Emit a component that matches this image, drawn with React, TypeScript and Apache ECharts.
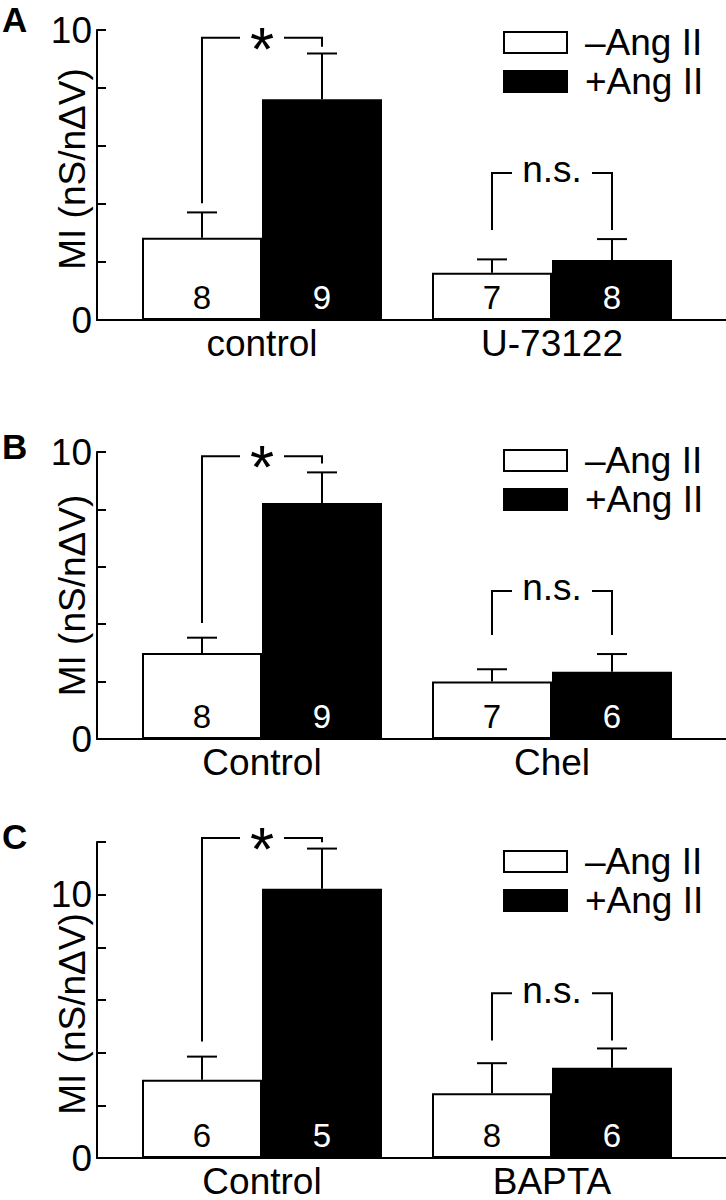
import React, { useEffect, useRef } from 'react';
import * as echarts from 'echarts';

// ---------- data ----------
const SERIES_NAMES = ['\u2013Ang II', '+Ang II'];
const PANEL_LETTERS = ['A', 'B', 'C'];
const Y_NAME = 'MI (nS/n\u0394V)';

const categoriesA = ['control', 'U-73122'];
const minusA = [2.84, 1.63];
const minusErrA = [0.87, 0.46];
const plusA = [7.61, 2.07];
const plusErrA = [1.58, 0.72];
const nMinusA = [8, 7];
const nPlusA = [9, 8];
const bracketsA = [
  { cat: 0, leftBottom: 4.03, rightBottom: 9.42, top: 9.73, label: '*' },
  { cat: 1, leftBottom: 3.1, rightBottom: 3.1, top: 5.07, label: 'n.s.' },
];

const categoriesB = ['Control', 'Chel'];
const minusB = [3.0, 2.0];
const minusErrB = [0.53, 0.43];
const plusB = [8.22, 2.34];
const plusErrB = [1.07, 0.62];
const nMinusB = [8, 7];
const nPlusB = [9, 6];
const bracketsB = [
  { cat: 0, leftBottom: 4.04, rightBottom: 9.6, top: 9.85, label: '*' },
  { cat: 1, leftBottom: 3.62, rightBottom: 3.62, top: 5.16, label: 'n.s.' },
];

const categoriesC = ['Control', 'BAPTA'];
const minusC = [2.97, 2.46];
const minusErrC = [0.88, 1.14];
const plusC = [10.22, 3.43];
const plusErrC = [1.53, 0.73];
const nMinusC = [6, 8];
const nPlusC = [5, 6];
const bracketsC = [
  { cat: 0, leftBottom: 4.42, rightBottom: 11.99, top: 12.15, label: '*' },
  { cat: 1, leftBottom: 4.46, rightBottom: 4.46, top: 6.26, label: 'n.s.' },
];

const Y_MAX = [10, 10, 12];
const Y_INTERVAL = 2;
const Y_LABELED_TICKS = [0, 10];

// ---------- layout / style ----------
const FONT = '"Liberation Sans", Arial, Helvetica, sans-serif';
const FS = 37;
const COUNT_FS = 33;
const STAR_FS = 62;
const BAR_W = 120;
const CAP_HALF = 15;
const LW = 2;
const GRID_TOP = [30, 452, 842];
const GRID_H = [290, 287, 316];
const LEGEND_TOP = [24, 442, 843];
const LETTER_TOP = [3, 430, 820];
const NAME_PAD = [[0, 0, 0, 12], [0, 0, 0, 0], [0, 28, 0, 0]];

const panels = [
  { cats: categoriesA, minus: minusA, minusErr: minusErrA, plus: plusA, plusErr: plusErrA, nMinus: nMinusA, nPlus: nPlusA, brackets: bracketsA },
  { cats: categoriesB, minus: minusB, minusErr: minusErrB, plus: plusB, plusErr: plusErrB, nMinus: nMinusB, nPlus: nPlusB, brackets: bracketsB },
  { cats: categoriesC, minus: minusC, minusErr: minusErrC, plus: plusC, plusErr: plusErrC, nMinus: nMinusC, nPlus: nPlusC, brackets: bracketsC },
];

function buildOption() {
  const grid: any[] = [];
  const xAxis: any[] = [];
  const yAxis: any[] = [];
  const series: any[] = [];
  const legend: any[] = [];
  const title: any[] = [];

  panels.forEach((p, i) => {
    grid.push({ left: 117, width: 580, top: GRID_TOP[i], height: GRID_H[i], outerBoundsMode: 'none' });
    xAxis.push({
      gridIndex: i,
      type: 'category',
      data: p.cats,
      axisLine: { show: false },
      axisTick: { show: false },
      axisLabel: { fontSize: FS, color: '#000', fontFamily: FONT, margin: 7, lineHeight: 32 },
      splitLine: { show: false },
    });
    yAxis.push({
      gridIndex: i,
      type: 'value',
      min: 0,
      max: Y_MAX[i],
      interval: Y_INTERVAL,
      offset: 20,
      axisLine: { show: true, lineStyle: { color: '#000', width: LW } },
      axisTick: { show: true, inside: true, length: 9, lineStyle: { color: '#000', width: LW } },
      axisLabel: {
        fontSize: FS,
        color: '#000',
        fontFamily: FONT,
        margin: 5,
        formatter: (v: number) => (Y_LABELED_TICKS.includes(v) ? String(v) : ''),
      },
      splitLine: { show: false },
      name: Y_NAME,
      nameLocation: 'middle',
      nameGap: 6,
      nameMoveOverlap: false,
      nameTextStyle: { fontSize: FS, color: '#000', fontFamily: FONT, padding: NAME_PAD[i] },
    });
  });

  panels.forEach((p, i) => {
    grid.push({ left: 97, right: 0, top: GRID_TOP[i], height: GRID_H[i], outerBoundsMode: 'none' });
    xAxis.push({
      gridIndex: 3 + i,
      type: 'value',
      min: 0,
      max: 1,
      axisLine: { show: true, lineStyle: { color: '#000', width: LW } },
      axisTick: { show: false },
      axisLabel: { show: false },
      splitLine: { show: false },
    });
    yAxis.push({ gridIndex: 3 + i, type: 'value', min: 0, max: 1, show: false });
  });

  panels.forEach((p, i) => {
    series.push({
      name: SERIES_NAMES[0],
      type: 'bar',
      xAxisIndex: i,
      yAxisIndex: i,
      data: p.minus,
      barWidth: BAR_W,
      barGap: '0%',
      itemStyle: { color: '#fff', borderColor: '#000', borderWidth: LW },
      label: {
        show: true,
        position: 'insideBottom',
        distance: 6,
        formatter: (q: any) => String(p.nMinus[q.dataIndex]),
        fontSize: COUNT_FS,
        fontFamily: FONT,
        color: '#000',
      },
    });
    series.push({
      name: SERIES_NAMES[1],
      type: 'bar',
      xAxisIndex: i,
      yAxisIndex: i,
      data: p.plus,
      barWidth: BAR_W,
      barGap: '0%',
      itemStyle: { color: '#000', borderColor: '#000', borderWidth: LW },
      label: {
        show: true,
        position: 'insideBottom',
        distance: 6,
        formatter: (q: any) => String(p.nPlus[q.dataIndex]),
        fontSize: COUNT_FS,
        fontFamily: FONT,
        color: '#fff',
      },
    });

    const errData: number[][] = [];
    p.minus.forEach((v, k) => errData.push([k, v, p.minusErr[k], -1]));
    p.plus.forEach((v, k) => errData.push([k, v, p.plusErr[k], 1]));
    series.push({
      type: 'custom',
      xAxisIndex: i,
      yAxisIndex: i,
      data: errData,
      encode: { x: 0, y: 1 },
      z: 3,
      renderItem: (params: any, api: any) => {
        const c = api.value(0);
        const v = api.value(1);
        const e = api.value(2);
        const side = api.value(3);
        const p0 = api.coord([c, v]);
        const p1 = api.coord([c, v + e]);
        const x = p0[0] + (side * BAR_W) / 2;
        const st = { stroke: '#000', lineWidth: LW, fill: null };
        return {
          type: 'group',
          children: [
            { type: 'line', shape: { x1: x, y1: p0[1], x2: x, y2: p1[1] }, style: st },
            { type: 'line', shape: { x1: x - CAP_HALF, y1: p1[1], x2: x + CAP_HALF, y2: p1[1] }, style: st },
          ],
        };
      },
    });

    const brData = p.brackets.map((b) => [b.cat, b.leftBottom, b.rightBottom, b.top]);
    series.push({
      type: 'custom',
      xAxisIndex: i,
      yAxisIndex: i,
      data: brData,
      encode: { x: 0, y: 3 },
      z: 3,
      renderItem: (params: any, api: any) => {
        const b = p.brackets[params.dataIndex];
        const c = api.value(0);
        const yl = api.coord([c, api.value(1)])[1];
        const yr = api.coord([c, api.value(2)])[1];
        const pt = api.coord([c, api.value(3)]);
        const cx = pt[0];
        const yt = pt[1];
        const xl = cx - BAR_W / 2;
        const xr = cx + BAR_W / 2;
        const isStar = b.label === '*';
        const g = isStar ? 22 : 40;
        const fs = isStar ? STAR_FS : FS;
        const dy = isStar ? 0.17 * STAR_FS : -3;
        const st = { stroke: '#000', lineWidth: LW, fill: null };
        return {
          type: 'group',
          children: [
            { type: 'polyline', shape: { points: [[xl, yl], [xl, yt], [cx - g, yt]] }, style: st },
            { type: 'polyline', shape: { points: [[cx + g, yt], [xr, yt], [xr, yr]] }, style: st },
            {
              type: 'text',
              x: cx,
              y: yt + dy,
              style: { text: b.label, fill: '#000', fontSize: fs, fontFamily: FONT, align: 'center', verticalAlign: 'middle' },
            },
          ],
        };
      },
    });

    legend.push({
      data: SERIES_NAMES,
      orient: 'vertical',
      left: 503,
      top: LEGEND_TOP[i],
      padding: 0,
      itemWidth: 63,
      itemHeight: 21,
      itemGap: 2,
      icon: 'rect',
      selectedMode: false,
      textStyle: { fontSize: FS, color: '#000', fontFamily: FONT, padding: [0, 0, 0, 13], lineHeight: FS },
    });

    title.push({
      text: PANEL_LETTERS[i],
      left: 2,
      top: LETTER_TOP[i],
      padding: 0,
      textStyle: { fontSize: 35, fontWeight: 'bold', color: '#000', fontFamily: FONT, lineHeight: 32 },
    });
  });

  return { animation: false, backgroundColor: '#fff', grid, xAxis, yAxis, series, legend, title };
}

export default function App() {
  const ref = useRef<HTMLDivElement>(null);
  useEffect(() => {
    if (!ref.current) return;
    const chart = echarts.init(ref.current, null, { renderer: 'svg' });
    chart.setOption(buildOption() as any);
    return () => chart.dispose();
  }, []);
  return <div ref={ref} style={{ position: 'absolute', left: 0, top: 0, width: 726, height: 1200, background: '#fff' }} />;
}
